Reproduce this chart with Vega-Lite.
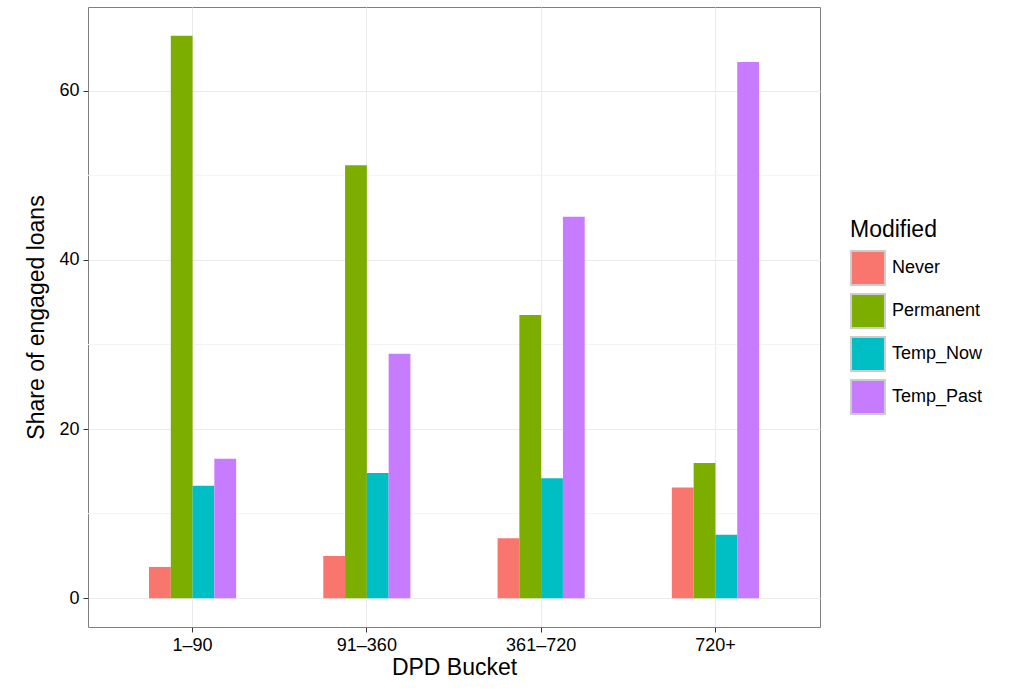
{
  "$schema": "https://vega.github.io/schema/vega-lite/v6.json",
  "autosize": "none",
  "padding": {"left": 88, "top": 7, "right": 206, "bottom": 68},
  "width": 732,
  "height": 620,
  "config": {
    "font": "Liberation Sans",
    "view": {"stroke": "#7f7f7f", "strokeWidth": 1},
    "axis": {"labelFontSize": 18, "labelColor": "#000", "titleFontSize": 23, "titleFontWeight": "normal", "titleColor": "#000", "domain": false, "tickColor": "#333", "tickSize": 5, "gridColor": "#ebebeb", "labelPadding": 4},
    "legend": {"titleFontSize": 23, "titleFontWeight": "normal", "labelFontSize": 18, "symbolType": "square", "symbolSize": 1150, "symbolStrokeColor": "#cccccc", "symbolStrokeWidth": 2, "rowPadding": 1, "titlePadding": 8, "labelOffset": 6, "orient": "none", "legendX": 762, "legendY": 212}
  },
  "data": {"values": [
    {"bucket": "1\u201390", "mod": "Never", "share": 3.7},
    {"bucket": "1\u201390", "mod": "Permanent", "share": 66.5},
    {"bucket": "1\u201390", "mod": "Temp_Now", "share": 13.3},
    {"bucket": "1\u201390", "mod": "Temp_Past", "share": 16.5},
    {"bucket": "91\u2013360", "mod": "Never", "share": 5.0},
    {"bucket": "91\u2013360", "mod": "Permanent", "share": 51.2},
    {"bucket": "91\u2013360", "mod": "Temp_Now", "share": 14.8},
    {"bucket": "91\u2013360", "mod": "Temp_Past", "share": 28.9},
    {"bucket": "361\u2013720", "mod": "Never", "share": 7.1},
    {"bucket": "361\u2013720", "mod": "Permanent", "share": 33.5},
    {"bucket": "361\u2013720", "mod": "Temp_Now", "share": 14.2},
    {"bucket": "361\u2013720", "mod": "Temp_Past", "share": 45.1},
    {"bucket": "720+", "mod": "Never", "share": 13.1},
    {"bucket": "720+", "mod": "Permanent", "share": 16.0},
    {"bucket": "720+", "mod": "Temp_Now", "share": 7.5},
    {"bucket": "720+", "mod": "Temp_Past", "share": 63.4}
  ]},
  "layer": [
    {
      "data": {"values": [{"v": 10}, {"v": 30}, {"v": 50}]},
      "mark": {"type": "rule", "color": "#f3f3f3", "strokeWidth": 1},
      "encoding": {"y": {"field": "v", "type": "quantitative", "scale": {"domain": [-3.4, 69.9], "nice": false, "zero": false}}}
    },
    {
      "mark": {"type": "bar"},
      "encoding": {
        "x": {"field": "bucket", "type": "nominal", "sort": null, "title": "DPD Bucket",
              "scale": {"paddingInner": 0.5, "paddingOuter": 0.35},
              "axis": {"labelAngle": 0, "grid": true, "bandPosition": 0.5, "titlePadding": 2}},
        "xOffset": {"field": "mod", "type": "nominal"},
        "y": {"field": "share", "type": "quantitative", "title": "Share of engaged loans",
              "scale": {"domain": [-3.4, 69.9], "nice": false, "zero": false},
              "axis": {"values": [0, 20, 40, 60], "titlePadding": 10}},
        "y2": {"datum": 0},
        "color": {"field": "mod", "type": "nominal", "title": "Modified",
                  "scale": {"domain": ["Never", "Permanent", "Temp_Now", "Temp_Past"], "range": ["#F8766D", "#7CAE00", "#00BFC4", "#C77CFF"]}}
      }
    }
  ]
}
